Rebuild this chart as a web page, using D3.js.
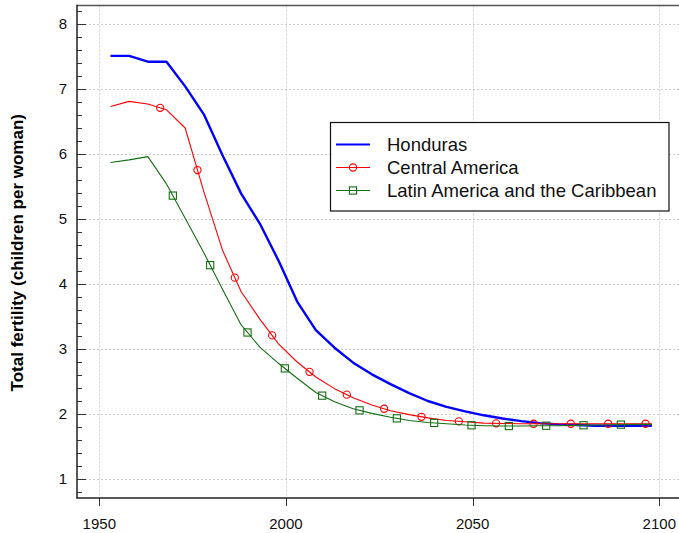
<!DOCTYPE html>
<html>
<head>
<meta charset="utf-8">
<script src="https://cdn.jsdelivr.net/npm/d3@7"></script>
<style>
  body { margin: 0; background: #fff; }
  svg { display: block; font-family: "Liberation Sans", Arial, sans-serif; }
</style>
</head>
<body>
<svg id="chart" width="679" height="533"></svg>
<script>
// five-year periods, plotted near the period midpoint
const years = [1953, 1958, 1963, 1968, 1973, 1978, 1983, 1988, 1993, 1998,
  2003, 2008, 2013, 2018, 2023, 2028, 2033, 2038, 2043, 2048,
  2053, 2058, 2063, 2068, 2073, 2078, 2083, 2088, 2093, 2098];

const honduras = [7.51, 7.51, 7.42, 7.42, 7.04, 6.61, 5.98, 5.39, 4.93, 4.36,
  3.73, 3.29, 3.02, 2.79, 2.61, 2.46, 2.32, 2.20, 2.11, 2.04,
  1.98, 1.93, 1.89, 1.86, 1.84, 1.83, 1.82, 1.82, 1.82, 1.82];

const centralAmerica = [6.73, 6.81, 6.77, 6.68, 6.40, 5.42, 4.52, 3.88, 3.46, 3.08,
  2.80, 2.57, 2.39, 2.25, 2.14, 2.05, 1.99, 1.94, 1.90, 1.88,
  1.86, 1.855, 1.85, 1.85, 1.85, 1.85, 1.85, 1.85, 1.85, 1.85];

const latinAmerica = [5.87, 5.91, 5.96, 5.54, 5.01, 4.48, 3.92, 3.37, 3.03, 2.78,
  2.55, 2.33, 2.19, 2.08, 2.01, 1.95, 1.90, 1.87, 1.85, 1.83,
  1.82, 1.815, 1.815, 1.82, 1.82, 1.825, 1.83, 1.835, 1.84, 1.84];

const seriesNames = ["Honduras", "Central America", "Latin America and the Caribbean"];
const xTicks = [1950, 2000, 2050, 2100];
const yTicks = [1, 2, 3, 4, 5, 6, 7, 8];
const yLabel = "Total fertility (children per woman)";

// markers sit along the line every ten years
const circleYears = d3.range(1966.3, 2098, 10);
const squareYears = d3.range(1969.7, 2098, 10);

const series = [
  { name: seriesNames[0], values: honduras, color: "#0000ff", width: 2.4, marker: null, at: [] },
  { name: seriesNames[1], values: centralAmerica, color: "#ff0000", width: 1.1, marker: "circle", at: circleYears },
  { name: seriesNames[2], values: latinAmerica, color: "#137013", width: 1.1, marker: "square", at: squareYears }
];

const svg = d3.select("#chart");
const plotL = 77, plotT = 5.5, plotB = 498, plotR = 679;

const x = d3.scaleLinear().domain([1950, 2100]).range([99.3, 659.3]);
const y = d3.scaleLinear().domain([1, 8]).range([479, 24]);

// grid
const grid = svg.append("g").attr("class", "grid")
  .attr("stroke", "#cfcfcf").attr("stroke-width", 1).attr("stroke-dasharray", "2,2");
grid.selectAll("line.h").data(yTicks).join("line").attr("class", "h")
  .attr("x1", plotL).attr("x2", plotR)
  .attr("y1", d => Math.round(y(d)) + 0.5).attr("y2", d => Math.round(y(d)) + 0.5);
grid.selectAll("line.v").data(xTicks).join("line").attr("class", "v")
  .attr("y1", plotT).attr("y2", plotB)
  .attr("x1", d => Math.round(x(d)) + 0.5).attr("x2", d => Math.round(x(d)) + 0.5);

// frame
svg.append("line").attr("x1", plotL).attr("x2", plotR).attr("y1", plotT).attr("y2", plotT)
  .attr("stroke", "#555").attr("stroke-width", 1.5);

// y axis, ticks inward
const minor = d3.range(0.8, 8.21, 0.2).map(d => +d.toFixed(1));
const yAxis = svg.append("g");
yAxis.selectAll("line").data(minor).join("line")
  .attr("x1", plotL).attr("x2", d => plotL + (Number.isInteger(d) ? 9 : 5))
  .attr("y1", d => Math.round(y(d)) + 0.5).attr("y2", d => Math.round(y(d)) + 0.5)
  .attr("stroke", "#333").attr("stroke-width", 1);
yAxis.selectAll("text").data(yTicks).join("text")
  .attr("x", 67).attr("y", d => y(d)).attr("dy", "0.36em")
  .attr("text-anchor", "end").attr("font-size", 15).attr("fill", "#111")
  .text(d => d);
svg.append("line").attr("x1", plotL).attr("x2", plotL).attr("y1", plotT - 0.75).attr("y2", plotB)
  .attr("stroke", "#222").attr("stroke-width", 1.5);

// x axis, ticks outward
const xAxis = svg.append("g");
xAxis.selectAll("line").data(xTicks).join("line")
  .attr("x1", d => Math.round(x(d)) + 0.5).attr("x2", d => Math.round(x(d)) + 0.5)
  .attr("y1", plotB).attr("y2", plotB + 8)
  .attr("stroke", "#333").attr("stroke-width", 1);
xAxis.selectAll("text").data(xTicks).join("text")
  .attr("x", d => x(d)).attr("y", 528.5)
  .attr("text-anchor", "middle").attr("font-size", 15).attr("fill", "#111")
  .text(d => d);
svg.append("line").attr("x1", plotL - 0.75).attr("x2", plotR).attr("y1", plotB).attr("y2", plotB)
  .attr("stroke", "#222").attr("stroke-width", 1.5);

svg.append("text")
  .attr("transform", `translate(23,${(plotT + plotB) / 2 + 1}) rotate(-90)`)
  .attr("text-anchor", "middle").attr("font-size", 17).attr("font-weight", "bold")
  .text(yLabel);

// lines and markers
const drawMarker = (g, type, cx, cy, color) => {
  if (type === "circle") {
    g.append("circle").attr("cx", cx).attr("cy", cy).attr("r", 3.6)
      .attr("fill", "none").attr("stroke", color).attr("stroke-width", 1.1);
  } else if (type === "square") {
    g.append("rect").attr("x", cx - 3.6).attr("y", cy - 3.6).attr("width", 7.2).attr("height", 7.2)
      .attr("fill", "none").attr("stroke", color).attr("stroke-width", 1.1);
  }
};

const line = d3.line().x(d => x(d[0])).y(d => y(d[1]));
series.forEach(s => {
  const g = svg.append("g");
  g.append("path").datum(years.map((yr, i) => [yr, s.values[i]]))
    .attr("d", line).attr("fill", "none")
    .attr("stroke", s.color).attr("stroke-width", s.width).attr("stroke-linejoin", "round");
  const along = d3.scaleLinear().domain(years).range(s.values);
  s.at.forEach(yr => drawMarker(g, s.marker, x(yr), y(along(yr)), s.color));
});

// legend
const lg = svg.append("g");
lg.append("rect").attr("x", 330.5).attr("y", 122.5).attr("width", 338.5).attr("height", 88.5)
  .attr("fill", "#fff").attr("stroke", "#111").attr("stroke-width", 1.2);
series.forEach((s, i) => {
  const ly = 144.5 + i * 23;
  lg.append("line").attr("x1", 336).attr("x2", 370).attr("y1", ly).attr("y2", ly)
    .attr("stroke", s.color).attr("stroke-width", Math.min(s.width, 2));
  drawMarker(lg, s.marker, 353, ly, s.color);
  lg.append("text").attr("x", 387).attr("y", ly).attr("dy", "0.36em")
    .attr("font-size", 18.5).attr("fill", "#111").text(s.name);
});
</script>
</body>
</html>
